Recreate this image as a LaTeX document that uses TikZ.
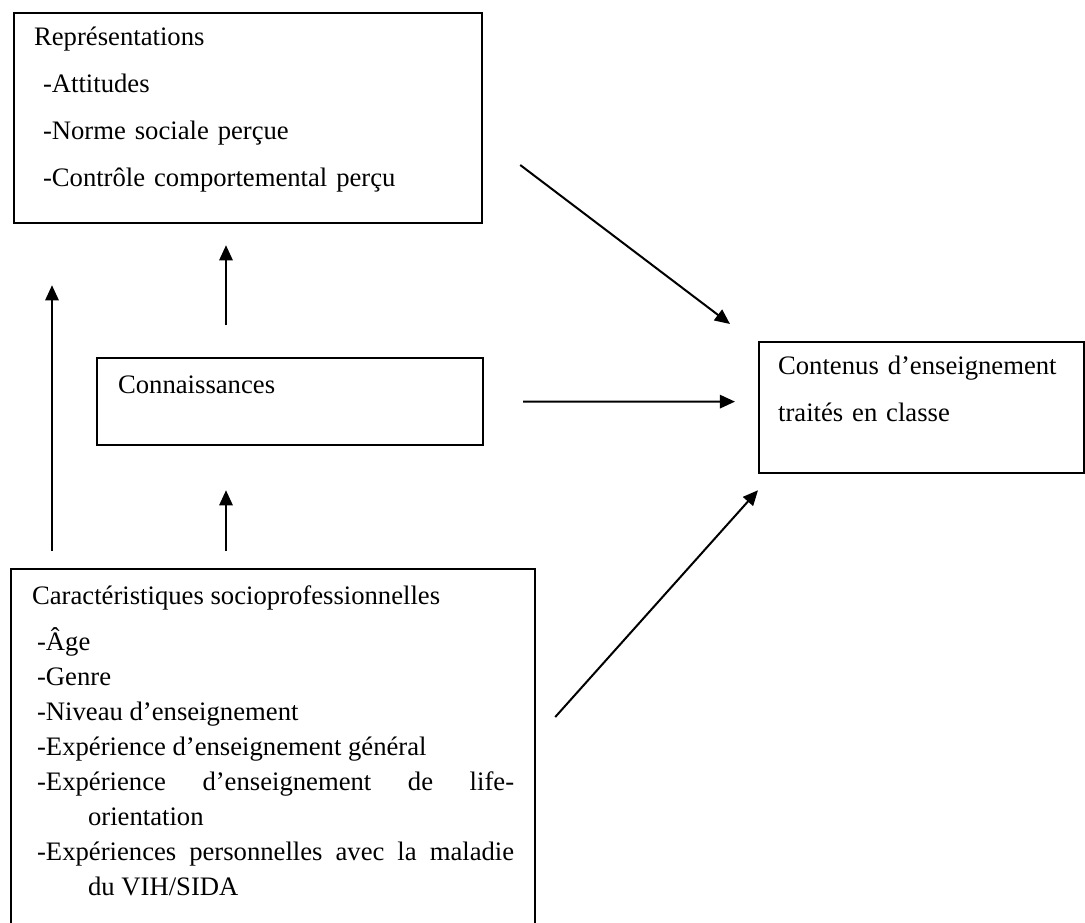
\documentclass[tikz,border=0pt]{standalone}
\usepackage{fontspec}
\setmainfont{Liberation Serif}
\usetikzlibrary{arrows.meta}

\newcommand{\caritem}{\par\hangindent=25.2pt\hangafter=1\hspace*{2.25pt}-}
\hbadness=10000

\begin{document}
\begin{tikzpicture}[
  x=0.45pt, y=-0.45pt,
  box/.style={
    rectangle, draw=black, line width=1pt,
    anchor=north west, inner ysep=0pt
  },
  arr/.style={-{Triangle[length=6.8pt,width=6pt]}, line width=0.9pt}
]
  \useasboundingbox (0,0) rectangle (1085,922);

  \node[box, inner xsep=9pt, text width=192.6pt, align=left,
        text height=14.4pt, text depth=80.1pt,
        font=\fontsize{12}{21.2}\selectfont] (repr) at (13,12)
    {Représentations\\
     \hspace*{4pt}-Attitudes\\
     \hspace*{4pt}-Norme sociale perçue\\
     \hspace*{4pt}-Contrôle comportemental perçu};

  \node[box, inner xsep=9.45pt, text width=154.8pt, align=left,
        text height=15.75pt, text depth=23.4pt,
        font=\fontsize{12}{14}\selectfont] (conn) at (96,357)
    {Connaissances};

  \node[box, inner xsep=8.55pt, text width=129.15pt, align=left,
        text height=14.4pt, text depth=44.55pt,
        font=\fontsize{12}{21.15}\selectfont] (cont) at (758,341)
    {Contenus d’enseignement\\
     traités en classe};

  \node[box, inner xsep=9.45pt, text width=216.9pt, align=justify,
        text height=15.75pt, text depth=144.45pt,
        font=\fontsize{12}{15.75}\selectfont] (car) at (10,568)
    {Caractéristiques socioprofessionnelles\par\vspace{4.95pt}
     \caritem Âge
     \caritem Genre
     \caritem Niveau d’enseignement
     \caritem Expérience d’enseignement général
     \caritem Expérience d’enseignement de life-\linebreak orientation
     \caritem Expériences personnelles avec la maladie\linebreak du VIH/SIDA\par};

  \draw[arr] ([shift={(37,153)}]repr.north east) -- ([shift={(-28,-17)}]cont.north west);
  \draw[arr] ([shift={(39,0)}]conn.east) -- ([shift={(-23,-6)}]cont.west);
  \draw[arr] ([shift={(19,149)}]car.north east) -- ([shift={(0,16)}]cont.south west);
  \draw[arr] ([shift={(130,-32)}]conn.north west) -- ([shift={(213,21)}]repr.south west);
  \draw[arr] ([shift={(216,-17)}]car.north west) -- ([shift={(130,44)}]conn.south west);
  \draw[arr] ([shift={(42,-17)}]car.north west) -- ([shift={(39,61)}]repr.south west);
\end{tikzpicture}
\end{document}
